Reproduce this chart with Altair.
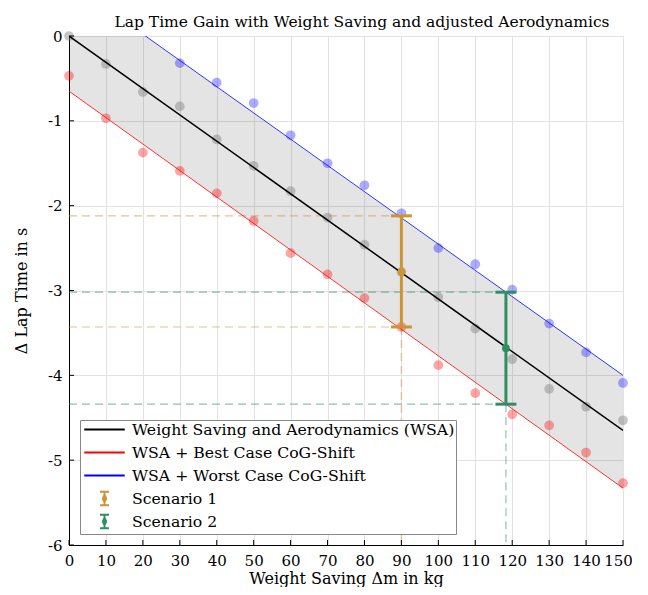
import altair as alt
import pandas as pd

# ---------------- data ----------------
x_kg = list(range(0, 151, 10))
wsa_pts = [0.0, -0.33, -0.66, -0.83, -1.22, -1.53, -1.83, -2.14, -2.46, -2.78,
           -3.08, -3.45, -3.81, -4.16, -4.37, -4.53]
best_pts = [-0.47, -0.97, -1.375, -1.59, -1.855, -2.18, -2.56, -2.81, -3.09, -3.43,
            -3.88, -4.21, -4.46, -4.59, -4.91, -5.27]
worst_x = list(range(30, 151, 10))
worst_pts = [-0.32, -0.55, -0.79, -1.17, -1.50, -1.76, -2.09, -2.50, -2.69, -2.99,
             -3.39, -3.73, -4.09]

fit_x = [0, 150]
wsa_fit = [0.0, -4.65]
best_fit = [-0.65, -5.33]
worst_fit = [0.64, -4.00]

scen_names = ["Scenario 1", "Scenario 2"]
scen_x = [90, 118.3]
scen_mid = [-2.78, -3.68]
scen_hi = [-2.12, -3.02]
scen_lo = [-3.43, -4.34]

legend_labels = ["Weight Saving and Aerodynamics (WSA)", "WSA + Best Case CoG-Shift",
                 "WSA + Worst Case CoG-Shift", "Scenario 1", "Scenario 2"]

x_domain = [0, 150]
y_domain = [-6, 0]
x_ticks = list(range(0, 151, 10))
y_ticks = [-6, -5, -4, -3, -2, -1, 0]

# ---------------- styles ----------------
FONT = "DejaVu Serif"
C_WSA, C_BEST, C_WORST = "#000000", "#ff0000", "#0000ff"
C_S1, C_S2 = "#cc9433", "#2f8f62"
legend_colors = [C_WSA, C_BEST, C_WORST, C_S1, C_S2]
# the two bare moves give every legend glyph the same height so rows are even
line_sym = "M0,-0.9M0,0.9M-2.7,0H2.7"
eb_sym = ("M-0.6,-0.9H0.6M0,-0.9V0.9M-0.6,0.9H0.6"
          "M-0.22,-0.3H0.22M-0.32,-0.1H0.32M-0.32,0.1H0.32M-0.22,0.3H0.22")
legend_shapes = [line_sym, line_sym, line_sym, eb_sym, eb_sym]

# ---------------- tables ----------------
df_pts = pd.DataFrame({"x": x_kg, "wsa": wsa_pts, "best": best_pts})
df_worst = pd.DataFrame({"x": worst_x, "worst": worst_pts})
df_fit = pd.DataFrame({"x": fit_x, "wsa": wsa_fit, "best": best_fit, "worst": worst_fit})
df_scen = pd.DataFrame({"series": scen_names, "x": scen_x, "mid": scen_mid,
                        "hi": scen_hi, "lo": scen_lo,
                        "x0": [x_domain[0]] * 2, "yfloor": [y_domain[0]] * 2})
df_caps = pd.DataFrame({
    "series": scen_names * 2,
    "x": scen_x * 2,
    "y": scen_hi + scen_lo,
    "x0": [x_domain[0]] * 4,
})
df_leg = pd.DataFrame({"series": legend_labels})
df_xt = pd.DataFrame({"x": x_ticks, "y": [y_domain[0]] * len(x_ticks)})
df_yt = pd.DataFrame({"x": [x_domain[0]] * len(y_ticks), "y": y_ticks})

xs = alt.Scale(domain=x_domain, nice=False, zero=False)
ys = alt.Scale(domain=y_domain, nice=False, zero=False)
x_axis = alt.Axis(values=x_ticks, title="Weight Saving Δm in kg", ticks=False,
                  labelPadding=8, grid=True,
                  titleBaseline="alphabetic", titleY=38.5,
                  labelFlush=False, labelOverlap=False,
                  labelOffset=alt.expr("datum.value == 150 ? -5 : 0"))
y_axis = alt.Axis(values=y_ticks, title="Δ Lap Time in s", ticks=False,
                  labelPadding=7, titlePadding=18, grid=True,
                  labelFlush=False, labelOverlap=False,
                  labelExpr="'' + datum.value")
sc_scale = alt.Scale(domain=scen_names, range=[C_S1, C_S2])


def X(f):
    return alt.X(f"{f}:Q", scale=xs, axis=x_axis)


def Y(f):
    return alt.Y(f"{f}:Q", scale=ys, axis=y_axis)


def S():
    return alt.Stroke("series:N", scale=sc_scale, legend=None)


def F():
    return alt.Fill("series:N", scale=sc_scale, legend=None)


band = alt.Chart(df_fit).mark_area(clip=True, color="#000000", opacity=0.105).encode(
    x=X("x"), y=Y("best"), y2="worst")

# inward tick marks along the bottom and left axes
xticks_in = alt.Chart(df_xt).mark_tick(orient="vertical", size=5, thickness=1,
                                       color="black", opacity=1, yOffset=-2.5).encode(
    x=X("x"), y=Y("y"))
yticks_in = alt.Chart(df_yt).mark_tick(orient="horizontal", size=5, thickness=1,
                                       color="black", opacity=1, xOffset=2.5).encode(
    x=X("x"), y=Y("y"))

line_wsa = alt.Chart(df_fit).mark_line(clip=True, color=C_WSA, strokeWidth=1.5).encode(
    x=X("x"), y=Y("wsa"))
line_best = alt.Chart(df_fit).mark_line(clip=True, color=C_BEST, strokeWidth=0.8).encode(
    x=X("x"), y=Y("best"))
line_worst = alt.Chart(df_fit).mark_line(clip=True, color=C_WORST, strokeWidth=0.8).encode(
    x=X("x"), y=Y("worst"))

pts_wsa = alt.Chart(df_pts).mark_circle(size=95, color="#808080", opacity=0.45).encode(
    x=X("x"), y=Y("wsa"))
pts_best = alt.Chart(df_pts).mark_circle(size=95, color=C_BEST, opacity=0.36).encode(
    x=X("x"), y=Y("best"))
pts_worst = alt.Chart(df_worst).mark_circle(size=95, color=C_WORST, opacity=0.33).encode(
    x=X("x"), y=Y("worst"))

dash_h = alt.Chart(df_caps).mark_rule(strokeDash=[8, 5], strokeWidth=1.2, opacity=0.55).encode(
    x=X("x0"), x2="x", y=Y("y"), stroke=S())
dash_v = alt.Chart(df_scen).mark_rule(strokeDash=[8, 5], strokeWidth=1.6, opacity=0.4).encode(
    x=X("x"), y=Y("lo"), y2="yfloor", stroke=S())

eb_rule = alt.Chart(df_scen).mark_rule(strokeWidth=3).encode(
    x=X("x"), y=Y("hi"), y2="lo", stroke=S())
eb_caps = alt.Chart(df_caps).mark_tick(orient="horizontal", size=21, thickness=3, opacity=1).encode(
    x=X("x"), y=Y("y"), fill=F())
eb_mid = alt.Chart(df_scen).mark_circle(size=60, opacity=1).encode(
    x=X("x"), y=Y("mid"), fill=F())

leg = alt.Legend(title=None, orient="bottom-left", offset=11, padding=1,
                 fillColor="white", strokeColor="#888888",
                 labelFont=FONT, labelFontSize=15.7, labelColor="black",
                 labelLimit=1000,
                 symbolSize=225, symbolStrokeWidth=2, symbolOffset=15,
                 labelOffset=19, rowPadding=0, cornerRadius=0,
                 symbolLimit=10)
legend_layer = alt.Chart(df_leg).mark_point(filled=False, size=0, opacity=1, strokeWidth=2).encode(
    color=alt.Color("series:N", scale=alt.Scale(domain=legend_labels, range=legend_colors), legend=leg),
    shape=alt.Shape("series:N", scale=alt.Scale(domain=legend_labels, range=legend_shapes), legend=leg),
)

chart = alt.layer(
    band, dash_h, dash_v, pts_wsa, pts_best, pts_worst,
    line_wsa, line_best, line_worst, eb_rule, eb_caps, eb_mid,
    xticks_in, yticks_in, legend_layer
).properties(
    width=554, height=509,
    title=alt.TitleParams("Lap Time Gain with Weight Saving and adjusted Aerodynamics",
                          font=FONT, fontSize=15.5, fontWeight="normal", color="black",
                          anchor="middle", dx=16, dy=10, offset=9),
    autosize=alt.AutoSizeParams(type="none"),
    padding={"left": 61, "top": 28, "right": 9, "bottom": 42},
).configure_view(stroke=None).configure_axis(
    labelFont=FONT, titleFont=FONT, labelFontSize=15, titleFontSize=16,
    labelColor="black", titleColor="black", titleFontWeight="normal",
    domainColor="black", domainWidth=1, gridColor="#e2e2e2", gridWidth=1,
).configure_legend(
    labelFont=FONT, labelFontSize=15.7, labelColor="black",
)

chart.save("out.html", embed_options={"renderer": "svg", "actions": False})
